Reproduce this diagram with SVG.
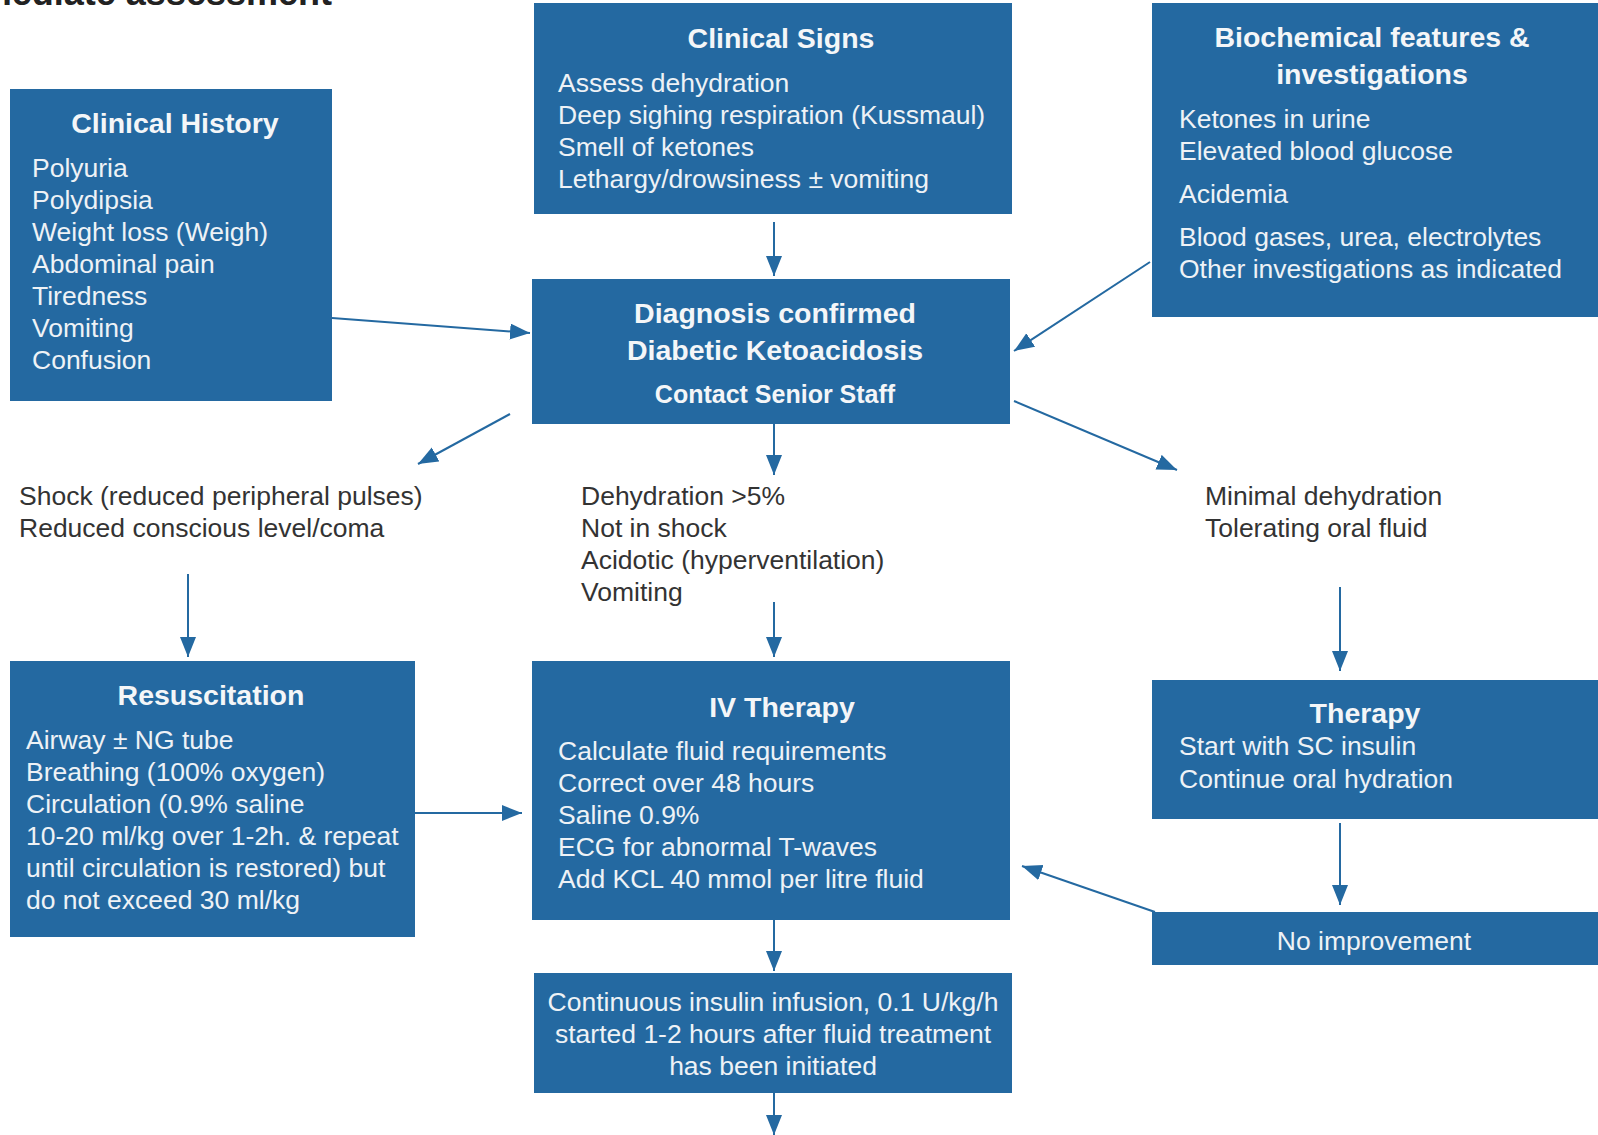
<svg xmlns="http://www.w3.org/2000/svg" width="1598" height="1135" viewBox="0 0 1598 1135">
<style>
.box{fill:#2469A1}
.t{font-family:"Liberation Sans",Arial,sans-serif;font-weight:bold;font-size:28.5px;fill:#F4F6F8;text-anchor:middle}
.t2{font-family:"Liberation Sans",Arial,sans-serif;font-weight:bold;font-size:25px;fill:#F4F6F8;text-anchor:middle}
.b{font-family:"Liberation Sans",Arial,sans-serif;font-size:26.5px;fill:#EEF2F6}
.bc{font-family:"Liberation Sans",Arial,sans-serif;font-size:26.5px;fill:#EEF2F6;text-anchor:middle}
.o{font-family:"Liberation Sans",Arial,sans-serif;font-size:26.5px;fill:#333333}
.c{stroke:#2469A1;stroke-width:2;fill:none;marker-end:url(#ah)}
</style>
<defs>
<marker id="ah" markerUnits="userSpaceOnUse" markerWidth="22" markerHeight="18" refX="20" refY="8" orient="auto"><path d="M0,0 L20,8 L0,16 z" fill="#2469A1"/></marker>
</defs>
<rect width="1598" height="1135" fill="#FFFFFF"/>
<text x="332" y="5" font-family="'Liberation Sans',Arial,sans-serif" font-weight="bold" font-size="36" fill="#222222" text-anchor="end">Immediate assessment</text>

<g id="clinical-history">
<rect class="box" x="10" y="89" width="322" height="312"/>
<text class="t" x="175" y="133">Clinical History</text>
<text class="b" x="32" y="177">Polyuria</text>
<text class="b" x="32" y="209">Polydipsia</text>
<text class="b" x="32" y="241">Weight loss (Weigh)</text>
<text class="b" x="32" y="273">Abdominal pain</text>
<text class="b" x="32" y="305">Tiredness</text>
<text class="b" x="32" y="337">Vomiting</text>
<text class="b" x="32" y="369">Confusion</text>
</g>

<g id="clinical-signs">
<rect class="box" x="534" y="3" width="478" height="211"/>
<text class="t" x="781" y="48">Clinical Signs</text>
<text class="b" x="558" y="92">Assess dehydration</text>
<text class="b" x="558" y="124">Deep sighing respiration (Kussmaul)</text>
<text class="b" x="558" y="156">Smell of ketones</text>
<text class="b" x="558" y="188">Lethargy/drowsiness ± vomiting</text>
</g>

<g id="biochemical">
<rect class="box" x="1152" y="3" width="446" height="314"/>
<text class="t" x="1372" y="47">Biochemical features &amp;</text>
<text class="t" x="1372" y="84">investigations</text>
<text class="b" x="1179" y="128">Ketones in urine</text>
<text class="b" x="1179" y="160">Elevated blood glucose</text>
<text class="b" x="1179" y="203">Acidemia</text>
<text class="b" x="1179" y="246">Blood gases, urea, electrolytes</text>
<text class="b" x="1179" y="278">Other investigations as indicated</text>
</g>

<g id="diagnosis">
<rect class="box" x="532" y="279" width="478" height="145"/>
<text class="t" x="775" y="323">Diagnosis confirmed</text>
<text class="t" x="775" y="360">Diabetic Ketoacidosis</text>
<text class="t2" x="775" y="403">Contact Senior Staff</text>
</g>

<g id="shock">
<text class="o" x="19" y="505">Shock (reduced peripheral pulses)</text>
<text class="o" x="19" y="537">Reduced conscious level/coma</text>
</g>

<g id="dehydration">
<text class="o" x="581" y="505">Dehydration &gt;5%</text>
<text class="o" x="581" y="537">Not in shock</text>
<text class="o" x="581" y="569">Acidotic (hyperventilation)</text>
<text class="o" x="581" y="601">Vomiting</text>
</g>

<g id="minimal">
<text class="o" x="1205" y="505">Minimal dehydration</text>
<text class="o" x="1205" y="537">Tolerating oral fluid</text>
</g>

<g id="resuscitation">
<rect class="box" x="10" y="661" width="405" height="276"/>
<text class="t" x="211" y="705">Resuscitation</text>
<text class="b" x="26" y="749">Airway ± NG tube</text>
<text class="b" x="26" y="781">Breathing (100% oxygen)</text>
<text class="b" x="26" y="813">Circulation (0.9% saline</text>
<text class="b" x="26" y="845">10-20 ml/kg over 1-2h. &amp; repeat</text>
<text class="b" x="26" y="877">until circulation is restored) but</text>
<text class="b" x="26" y="909">do not exceed 30 ml/kg</text>
</g>

<g id="iv-therapy">
<rect class="box" x="532" y="661" width="478" height="259"/>
<text class="t" x="782" y="717">IV Therapy</text>
<text class="b" x="558" y="760">Calculate fluid requirements</text>
<text class="b" x="558" y="792">Correct over 48 hours</text>
<text class="b" x="558" y="824">Saline 0.9%</text>
<text class="b" x="558" y="856">ECG for abnormal T-waves</text>
<text class="b" x="558" y="888">Add KCL 40 mmol per litre fluid</text>
</g>

<g id="therapy">
<rect class="box" x="1152" y="680" width="446" height="139"/>
<text class="t" x="1365" y="723">Therapy</text>
<text class="b" x="1179" y="755">Start with SC insulin</text>
<text class="b" x="1179" y="788">Continue oral hydration</text>
</g>

<g id="no-improvement">
<rect class="box" x="1152" y="912" width="446" height="53"/>
<text class="bc" x="1374" y="950">No improvement</text>
</g>

<g id="insulin">
<rect class="box" x="534" y="973" width="478" height="120"/>
<text class="bc" x="773" y="1011">Continuous insulin infusion, 0.1 U/kg/h</text>
<text class="bc" x="773" y="1043">started 1-2 hours after fluid treatment</text>
<text class="bc" x="773" y="1075">has been initiated</text>
</g>

<g id="connectors">
<line class="c" x1="774" y1="222" x2="774" y2="276"/>
<line class="c" x1="332" y1="318" x2="530" y2="333"/>
<line class="c" x1="1150" y1="262" x2="1014" y2="351"/>
<line class="c" x1="510" y1="414" x2="418" y2="464"/>
<line class="c" x1="774" y1="424" x2="774" y2="475"/>
<line class="c" x1="1014" y1="401" x2="1177" y2="470"/>
<line class="c" x1="188" y1="574" x2="188" y2="657"/>
<line class="c" x1="774" y1="602" x2="774" y2="657"/>
<line class="c" x1="1340" y1="587" x2="1340" y2="671"/>
<line class="c" x1="415" y1="813" x2="522" y2="813"/>
<line class="c" x1="1340" y1="823" x2="1340" y2="905"/>
<line class="c" x1="1155" y1="912" x2="1022" y2="866"/>
<line class="c" x1="774" y1="920" x2="774" y2="971"/>
<line class="c" x1="774" y1="1093" x2="774" y2="1135"/>
</g>
</svg>
